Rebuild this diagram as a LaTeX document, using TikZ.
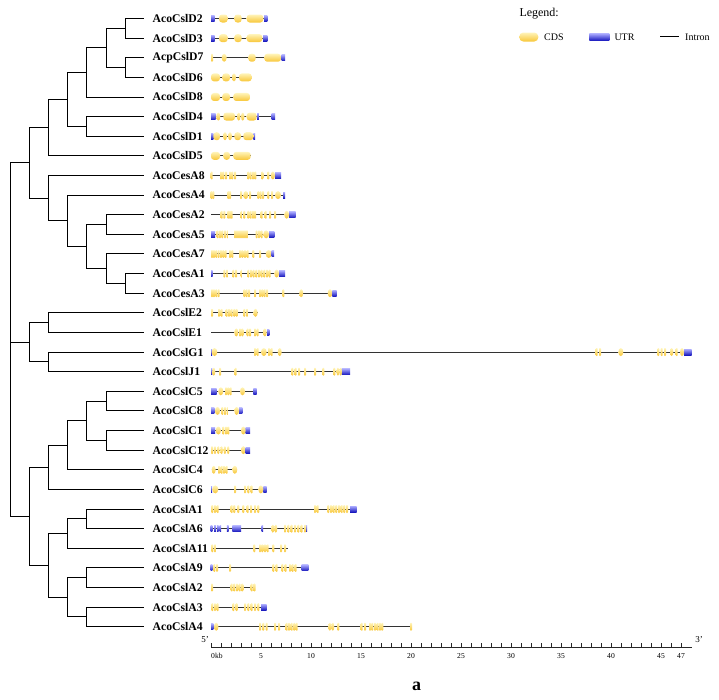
\documentclass[tikz,border=0pt]{standalone}
\usepackage{fontspec}
\setmainfont{Liberation Serif}
\usetikzlibrary{math}
\definecolor{cdsTop}{RGB}{255,244,185}
\definecolor{cdsBot}{RGB}{248,198,55}
\definecolor{utrTop}{RGB}{170,170,255}
\definecolor{utrBot}{RGB}{25,25,190}
\tikzset{
  branch/.style={line width=0.95pt, black},
  intron/.style={line width=0.9pt, black!80},
  cds/.style={top color=cdsTop, bottom color=cdsBot, rounded corners=3pt},
  utr/.style={top color=utrTop, bottom color=utrBot},
  gene/.style={font=\fontsize{11.7}{13}\selectfont\bfseries, anchor=west, inner xsep=8.5pt, inner ysep=1pt},
  ticklab/.style={font=\fontsize{7.6}{9}\selectfont, inner sep=0pt},
  legtext/.style={font=\fontsize{10}{12}\selectfont, anchor=west, inner sep=0pt},
  axisline/.style={line width=0.8pt, black!85}
}
% row y of gene number #1
\newcommand{\ry}[1]{\yfirst+\dy*(#1-1)}
\newcommand{\intronline}[3]{\draw[intron] (#2,{\ry{#1}}) -- (#3,{\ry{#1}});}
\newcommand{\cdsbox}[3]{\path[cds] (#2,{\ry{#1}-4}) rectangle (#3,{\ry{#1}+4});}
\newcommand{\cdsoval}[3]{\path[cds] ({(#2+#3)/2},{\ry{#1}}) ellipse [x radius={(#3-#2)*5pt}, y radius=4pt];}
\newcommand{\cdsbar}[2]{\path[cds,rounded corners=0.9pt] ({#2-0.1},{\ry{#1}-4}) rectangle ({#2+0.1},{\ry{#1}+4});}
\newcommand{\utrbox}[3]{\path[utr] (#2,{\ry{#1}-3}) rectangle (#3,{\ry{#1}+3});}
\newcommand{\utrbar}[2]{\path[utr] ({#2-0.08},{\ry{#1}-3}) rectangle ({#2+0.08},{\ry{#1}+3});}

\begin{document}
\begin{tikzpicture}[x=1pt,y=-1pt]
\tikzmath{
\yfirst=18.5;
\dy=19.62;
\kb=10;
\axy=647.3;
}
\useasboundingbox (0,0) rectangle (719,699);

%labels
\foreach \g [count=\i] in {AcoCslD2,AcoCslD3,AcpCslD7,AcoCslD6,AcoCslD8,AcoCslD4,AcoCslD1,AcoCslD5,
  AcoCesA8,AcoCesA4,AcoCesA2,AcoCesA5,AcoCesA7,AcoCesA1,AcoCesA3,AcoCslE2,AcoCslE1,AcoCslG1,AcoCslJ1,
  AcoCslC5,AcoCslC8,AcoCslC1,AcoCslC12,AcoCslC4,AcoCslC6,AcoCslA1,AcoCslA6,AcoCslA11,AcoCslA9,
  AcoCslA2,AcoCslA3,AcoCslA4}
  \node[gene] (\g) at (144,{\yfirst+\dy*(\i-1)}) {\g};

%tree
\coordinate (d23) at (125.2,28.31);
\coordinate (d76) at (125.2,67.55);
\coordinate (d2376) at (106,47.93);
\coordinate (d8) at (86.8,72.46);
\coordinate (d41) at (86.8,126.41);
\coordinate (dA) at (67.6,99.43);
\coordinate (dAll) at (48.4,127.64);
\coordinate (c25) at (106,224.51);
\coordinate (c13) at (125.2,283.37);
\coordinate (c7) at (106,268.66);
\coordinate (cB) at (86.8,246.58);
\coordinate (c4) at (67.6,220.83);
\coordinate (cAll) at (48.4,198.15);
\coordinate (dc) at (29.2,162.9);
\coordinate (eE) at (48.4,322.61);
\coordinate (eGJ) at (48.4,361.85);
\coordinate (eAll) at (29.2,342.23);
\coordinate (k58) at (106,401.09);
\coordinate (k112) at (106,440.33);
\coordinate (kB) at (86.8,420.71);
\coordinate (k4) at (67.6,445.24);
\coordinate (kAll) at (48.4,467.31);
\coordinate (a16) at (86.8,518.81);
\coordinate (a11) at (67.6,533.53);
\coordinate (a92) at (86.8,577.67);
\coordinate (a34) at (86.8,616.91);
\coordinate (aB) at (67.6,597.29);
\coordinate (aAll) at (48.4,565.41);
\coordinate (ka) at (29.2,516.36);
\coordinate (root) at (10,339.63);

\draw[branch] (d23) |- (AcoCslD2.west) (d23) |- (AcoCslD3.west);
\draw[branch] (d76) |- (AcpCslD7.west) (d76) |- (AcoCslD6.west);
\draw[branch] (d2376) |- (d23) (d2376) |- (d76);
\draw[branch] (d8) |- (d2376) (d8) |- (AcoCslD8.west);
\draw[branch] (d41) |- (AcoCslD4.west) (d41) |- (AcoCslD1.west);
\draw[branch] (dA) |- (d8) (dA) |- (d41);
\draw[branch] (dAll) |- (dA) (dAll) |- (AcoCslD5.west);
\draw[branch] (c25) |- (AcoCesA2.west) (c25) |- (AcoCesA5.west);
\draw[branch] (c13) |- (AcoCesA1.west) (c13) |- (AcoCesA3.west);
\draw[branch] (c7) |- (AcoCesA7.west) (c7) |- (c13);
\draw[branch] (cB) |- (c25) (cB) |- (c7);
\draw[branch] (c4) |- (AcoCesA4.west) (c4) |- (cB);
\draw[branch] (cAll) |- (AcoCesA8.west) (cAll) |- (c4);
\draw[branch] (dc) |- (dAll) (dc) |- (cAll);
\draw[branch] (eE) |- (AcoCslE2.west) (eE) |- (AcoCslE1.west);
\draw[branch] (eGJ) |- (AcoCslG1.west) (eGJ) |- (AcoCslJ1.west);
\draw[branch] (eAll) |- (eE) (eAll) |- (eGJ);
\draw[branch] (k58) |- (AcoCslC5.west) (k58) |- (AcoCslC8.west);
\draw[branch] (k112) |- (AcoCslC1.west) (k112) |- (AcoCslC12.west);
\draw[branch] (kB) |- (k58) (kB) |- (k112);
\draw[branch] (k4) |- (kB) (k4) |- (AcoCslC4.west);
\draw[branch] (kAll) |- (k4) (kAll) |- (AcoCslC6.west);
\draw[branch] (a16) |- (AcoCslA1.west) (a16) |- (AcoCslA6.west);
\draw[branch] (a11) |- (a16) (a11) |- (AcoCslA11.west);
\draw[branch] (a92) |- (AcoCslA9.west) (a92) |- (AcoCslA2.west);
\draw[branch] (a34) |- (AcoCslA3.west) (a34) |- (AcoCslA4.west);
\draw[branch] (aB) |- (a92) (aB) |- (a34);
\draw[branch] (aAll) |- (a11) (aAll) |- (aB);
\draw[branch] (ka) |- (kAll) (ka) |- (aAll);
\draw[branch] (root) |- (dc) (root) |- (eAll) (root) |- (ka);

%gene structures, x in kb
\begin{scope}[xshift=211pt, x=\kb pt]
% D2
\intronline{1}{0}{5.63}
\utrbox{1}{0}{0.35} \utrbox{1}{5.3}{5.63}
\foreach \xa/\xb in {0.8/1.67,2.33/3.07,3.57/5.23} {\cdsbox{1}{\xa}{\xb}}
% D3
\intronline{2}{0}{5.63}
\utrbox{2}{0}{0.35} \utrbox{2}{5.2}{5.63}
\foreach \xa/\xb in {0.8/1.67,2.33/3.07,3.57/5.13} {\cdsbox{2}{\xa}{\xb}}
% D7
\intronline{3}{0}{7.4}
\cdsbar{3}{0.1} \cdsoval{3}{1.07}{1.57}
\cdsbox{3}{3.73}{4.47} \cdsbox{3}{5.33}{7.0}
\utrbox{3}{7.07}{7.4}
% D6
\intronline{4}{0}{4.07}
\foreach \xa/\xb in {0/0.9,1.13/1.9,2.8/4.07} {\cdsbox{4}{\xa}{\xb}}
\cdsoval{4}{2.1}{2.5}
% D8
\intronline{5}{0}{3.9}
\foreach \xa/\xb in {0/0.9,1.13/1.9,2.23/3.9} {\cdsbox{5}{\xa}{\xb}}
% D4
\intronline{6}{0}{6.4}
\utrbox{6}{0}{0.47} \utrbar{6}{4.7} \utrbox{6}{6.07}{6.4}
\foreach \xa/\xb in {0.53/0.93,2.6/2.95,3.0/3.35} {\cdsoval{6}{\xa}{\xb}}
\cdsbox{6}{1.23}{2.4} \cdsbox{6}{3.57}{4.57}
% D1
\intronline{7}{0}{4.4}
\utrbox{7}{0}{0.23} \utrbox{7}{4.23}{4.4}
\foreach \xa/\xb in {0.23/0.9,2.33/3.0,3.23/4.23} {\cdsbox{7}{\xa}{\xb}}
\foreach \xa/\xb in {1.2/1.6,1.7/2.1} {\cdsoval{7}{\xa}{\xb}}
% D5
\intronline{8}{0}{3.97}
\foreach \xa/\xb in {0/0.9,1.23/1.9,2.23/3.97} {\cdsbox{8}{\xa}{\xb}}
% CesA8
\intronline{9}{0}{7.0}
\foreach \xc in {0.07,1.0,1.23,1.5,1.9,2.13,2.4,3.73,3.97,4.2,4.43,5.13,5.73} {\cdsbar{9}{\xc}}
\cdsoval{9}{5.97}{6.4} \utrbox{9}{6.4}{7.0}
% CesA4
\intronline{10}{0}{7.4}
\foreach \xc in {0.05,0.23,1.73,1.9,3.0,3.9,4.73,4.97,5.2,5.73,6.1} {\cdsbar{10}{\xc}}
\cdsoval{10}{3.23}{3.73} \cdsoval{10}{6.4}{7.0} \utrbox{10}{7.2}{7.4}
% CesA2
\intronline{11}{0}{8.47}
\foreach \xc in {1.07,1.33,1.73,1.9,2.07,3.07,3.33,3.73,3.97,4.2,4.4,5.07,5.47,5.9,6.4} {\cdsbar{11}{\xc}}
\cdsoval{11}{7.33}{7.8} \utrbox{11}{7.8}{8.47}
% CesA5
\intronline{12}{0}{6.33}
\utrbox{12}{0}{0.4} \utrbox{12}{5.8}{6.33}
\foreach \xc in {0.67,0.9,1.13,1.4,1.67,2.4,2.6,2.8,3.0,3.2,3.4,3.6,4.57,4.8,5.07} {\cdsbar{12}{\xc}}
\cdsoval{12}{5.23}{5.8}
% CesA7
\intronline{13}{0}{6.3}
\foreach \xc in {0.1,0.3,0.53,0.77,1.0,1.23,1.47,1.9,2.13,2.9,3.13,3.4,3.67,4.23,4.9} {\cdsbar{13}{\xc}}
\cdsoval{13}{5.47}{6.07} \utrbox{13}{6.07}{6.3}
% CesA1
\intronline{14}{0}{7.4}
\utrbox{14}{0}{0.17} \utrbox{14}{6.8}{7.4}
\foreach \xc in {1.33,1.6,2.23,2.5,3.07,3.73,4.0,4.27,4.53,4.8,5.07,5.33,5.6,5.87} {\cdsbar{14}{\xc}}
\cdsoval{14}{6.33}{6.8}
% CesA3
\intronline{15}{0}{12.57}
\foreach \xc in {0.1,0.3,0.53,0.77,3.33,3.57,3.8,4.4,4.9,5.13,5.37,5.6,7.23} {\cdsbar{15}{\xc}}
\cdsoval{15}{8.82}{9.22} \cdsoval{15}{11.67}{12.13} \utrbox{15}{12.13}{12.57}
% E2
\intronline{16}{0.07}{4.67}
\foreach \xc in {0.1,0.8,1.07,1.57,1.8,2.07,2.33,2.57,3.33,3.6} {\cdsbar{16}{\xc}}
\cdsoval{16}{4.23}{4.67}
% E1
\intronline{17}{0}{5.83}
\cdsoval{17}{2.33}{2.73} \cdsoval{17}{5.2}{5.57}
\foreach \xc in {2.9,3.13,3.67,3.9,4.4,4.67} {\cdsbar{17}{\xc}}
\utrbox{17}{5.6}{5.83}
% G1
\intronline{18}{0}{48.07}
\utrbox{18}{0}{0.1}
\foreach \xa/\xb in {0.07/0.63,5.0/5.57,6.67/7.07,40.73/41.23,45.9/46.23,46.9/47.3} {\cdsoval{18}{\xa}{\xb}}
\foreach \xc in {4.4,4.67,5.8,6.07,38.57,38.9,44.73,45.07,45.4,46.57} {\cdsbar{18}{\xc}}
\utrbox{18}{47.3}{48.07}
% J1
\intronline{19}{0}{13.9}
\utrbox{19}{0}{0.13} \utrbox{19}{13.07}{13.9}
\foreach \xa/\xb in {0.13/0.43,12.55/12.83,12.83/13.1} {\cdsoval{19}{\xa}{\xb}}
\foreach \xc in {0.9,2.47,8.13,8.47,8.8,9.4,10.4,11.23,12.33} {\cdsbar{19}{\xc}}
% C5
\intronline{20}{0}{4.57}
\utrbox{20}{0}{0.57} \utrbox{20}{4.23}{4.57}
\cdsoval{20}{0.73}{1.23} \cdsoval{20}{2.9}{3.4}
\foreach \xc in {1.5,1.73,1.97} {\cdsbar{20}{\xc}}
% C8
\intronline{21}{0}{3.13}
\utrbox{21}{0}{0.33} \utrbox{21}{2.8}{3.13}
\cdsoval{21}{0.4}{0.9} \cdsoval{21}{2.33}{2.8}
\foreach \xc in {1.13,1.4,1.67} {\cdsbar{21}{\xc}}
% C1
\intronline{22}{0}{3.9}
\utrbox{22}{0}{0.4} \utrbox{22}{3.47}{3.9}
\cdsoval{22}{0.47}{1.0} \cdsoval{22}{3.0}{3.47}
\foreach \xc in {1.23,1.5,1.73} {\cdsbar{22}{\xc}}
% C12
\intronline{23}{0}{3.9}
\cdsbar{23}{0.1}
\foreach \xa/\xb in {0.27/0.53,0.6/0.86,0.93/1.19,1.26/1.52,1.59/1.85,3.0/3.47} {\cdsoval{23}{\xa}{\xb}}
\utrbox{23}{3.47}{3.9}
% C4
\intronline{24}{0.07}{2.63}
\cdsoval{24}{0.07}{0.47} \cdsoval{24}{2.13}{2.63}
\foreach \xc in {0.8,1.07,1.3,1.57} {\cdsbar{24}{\xc}}
% C6
\intronline{25}{0}{5.57}
\utrbox{25}{0}{0.1} \utrbox{25}{5.23}{5.57}
\cdsoval{25}{0.13}{0.73} \cdsoval{25}{4.73}{5.23}
\foreach \xc in {2.4,3.4,3.73,4.07} {\cdsbar{25}{\xc}}
% A1
\intronline{26}{0}{14.57}
\foreach \xc in {0.13,0.4,0.67,2.07,2.33,2.73,3.23,3.67,4.0,4.4,4.73,10.4,10.67,11.73,12.0,12.27,12.53,12.8,13.07,13.33,13.6} {\cdsbar{26}{\xc}}
\utrbox{26}{13.9}{14.57}
% A6
\intronline{27}{0}{9.57}
\foreach \xc in {0.05,0.4,0.67,0.93,1.67,5.13,9.52} {\utrbar{27}{\xc}}
\utrbox{27}{2.13}{3.0}
\cdsoval{27}{6.03}{6.33} \cdsoval{27}{6.33}{6.63}
\foreach \xc in {7.4,7.73,8.07,8.4,8.73,9.07,9.4} {\cdsbar{27}{\xc}}
% A11
\intronline{28}{0}{7.73}
\foreach \xc in {0.13,0.4,4.33,4.9,5.13,5.4,5.67,6.23,7.0,7.4} {\cdsbar{28}{\xc}}
% A9
\intronline{29}{0}{9.73}
\utrbar{29}{0.05}
\foreach \xc in {0.33,0.6,1.9,6.23,6.57,7.13,7.47,7.9,8.17,8.47} {\cdsbar{29}{\xc}}
\utrbox{29}{9.07}{9.73}
% A2
\intronline{30}{0.07}{4.4}
\foreach \xc in {0.1,2.07,2.33,2.6,2.87,3.13,4.07,4.35} {\cdsbar{30}{\xc}}
% A3
\intronline{31}{0}{5.57}
\foreach \xc in {0.13,0.4,0.67,2.23,2.57,3.4,3.73,4.07,4.4,4.73} {\cdsbar{31}{\xc}}
\utrbox{31}{5.0}{5.57}
% A4
\intronline{32}{0}{20.07}
\utrbox{32}{0}{0.23}
\foreach \xa/\xb in {0.3/0.75,11.73/12.03,12.03/12.33} {\cdsoval{32}{\xa}{\xb}}
\foreach \xc in {4.9,5.23,5.57,6.4,6.8,7.57,7.8,8.07,8.33,8.57,12.73,15.07,15.4,15.9,16.13,16.4,16.67,16.9,17.13,20.0} {\cdsbar{32}{\xc}}

%scale
\draw[axisline] (0,\axy) -- (48.07,\axy);
\foreach \k in {0,...,47} \draw[axisline] (\k,\axy) -- (\k,\axy-4);
\node[ticklab, anchor=west] (t0) at (0,656) {0kb};
\foreach \k in {5,10,...,45,47} \node[ticklab] (t\k) at (\k,656) {\k};
\node[font=\fontsize{9}{10}\selectfont, inner sep=0pt] (five) at (-0.6,640) {5'};
\node[font=\fontsize{9}{10}\selectfont, inner sep=0pt] (three) at (48.8,640) {3'};
\end{scope}

%legend
\node[legtext, font=\fontsize{12}{14}\selectfont] (leg) at (519.3,13.3) {Legend:};
\path[cds, rounded corners=4pt] (519.3,32.5) rectangle (538.3,41.5);
\node[legtext] (lcds) at (544,37) {CDS};
\path[utr] (589.3,33.5) rectangle (609.3,40.5);
\node[legtext] (lutr) at (614.3,37) {UTR};
\draw[intron, black] (660,36.5) -- (679.3,36.5);
\node[legtext] (lintron) at (685,37) {Intron};

\node[font=\fontsize{18}{20}\selectfont\bfseries] (pan) at (416.7,686) {a};
\end{tikzpicture}
\end{document}
